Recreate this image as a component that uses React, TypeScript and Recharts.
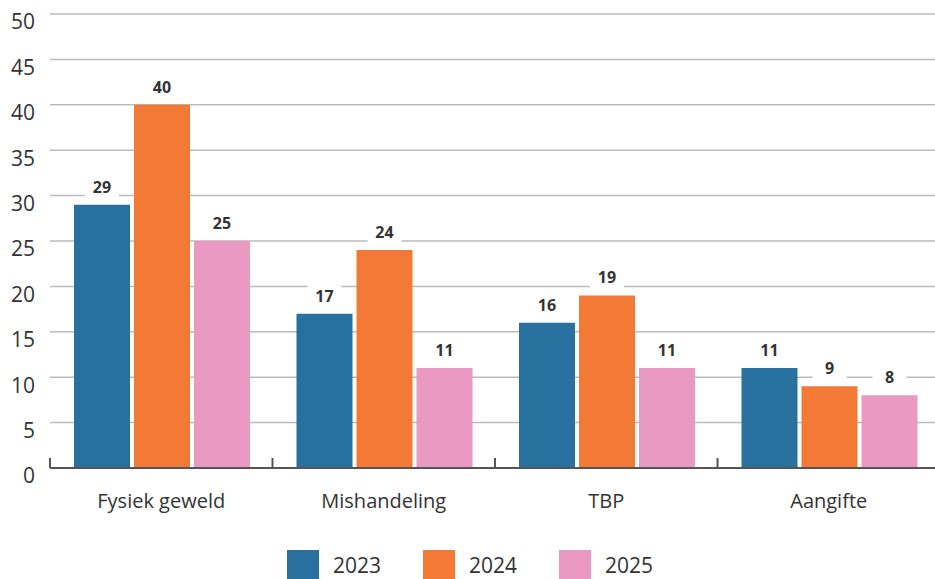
import { BarChart, Bar, XAxis, YAxis, CartesianGrid, Legend, LabelList } from "recharts";

const CATEGORIES = ["Fysiek geweld", "Mishandeling", "TBP", "Aangifte"];
const Y2023 = [29, 17, 16, 11];
const Y2024 = [40, 24, 19, 9];
const Y2025 = [25, 11, 11, 8];
const YEARS = ["2023", "2024", "2025"];
const Y_TICKS = [0, 5, 10, 15, 20, 25, 30, 35, 40, 45, 50];

const COLORS = ["#28709e", "#f37937", "#e999c2"];
const TEXT = "#333333";
const FONT = "'Open Sans', 'Noto Sans', sans-serif";

const CHART_W = 940;
const CHART_H = 579;
const LEFT = 50;
const AXIS_Y = 468;
const BAND = (CHART_W - LEFT) / CATEGORIES.length;

const data = CATEGORIES.map((name, i) => ({
  name,
  "2023": Y2023[i],
  "2024": Y2024[i],
  "2025": Y2025[i],
}));

function XTick(props: any) {
  const { x, y, payload, index } = props;
  const left = x - BAND / 2;
  const right = x + BAND / 2;
  return (
    <g>
      <line x1={left} x2={left} y1={AXIS_Y - 10} y2={AXIS_Y} stroke="#555" strokeWidth={2} />
      {index === CATEGORIES.length - 1 && (
        <line x1={right} x2={right} y1={AXIS_Y - 10} y2={AXIS_Y} stroke="#555" strokeWidth={2} />
      )}
      <text x={x} y={y} dy="0.71em" textAnchor="middle" fill={TEXT} fontSize={20} fontFamily={FONT}>
        {payload.value}
      </text>
    </g>
  );
}

function ValueLabel(props: any) {
  const { x, y, width, value } = props;
  const cx = x + width / 2;
  return (
    <g>
      <rect x={cx - 17} y={y - 29} width={34} height={22} fill="#fff" />
      <text x={cx} y={y - 12} textAnchor="middle" fill={TEXT} fontSize={16} fontWeight={700} fontFamily={FONT}>
        {value}
      </text>
    </g>
  );
}

function LegendContent() {
  return (
    <div style={{ height: 61, paddingTop: 33, boxSizing: "border-box", display: "flex", justifyContent: "flex-start", paddingLeft: 287 }}>
      {YEARS.map((yr, i) => (
        <div key={yr} style={{ display: "flex", alignItems: "center", marginRight: 39 }}>
          <div style={{ width: 32, height: 30, background: COLORS[i], marginRight: 14 }} />
          <span style={{ fontFamily: FONT, fontSize: 21, color: TEXT, lineHeight: "30px", width: 51 }}>{yr}</span>
        </div>
      ))}
    </div>
  );
}

export default function App() {
  return (
    <div style={{ position: "absolute", left: 0, top: 0, width: 935, height: 579, overflow: "hidden", background: "#fff" }}>
      <BarChart
        width={CHART_W}
        height={CHART_H}
        data={data}
        margin={{ top: 14, right: 0, left: 0, bottom: 0 }}
        barCategoryGap={24}
        barGap={4}
      >
        <CartesianGrid vertical={false} stroke="#bbbbbb" strokeWidth={1.5} />
        <YAxis
          width={LEFT}
          domain={[0, 50]}
          ticks={Y_TICKS}
          axisLine={false}
          tickLine={false}
          tickMargin={9}
          tick={{ fill: TEXT, fontSize: 21, fontFamily: FONT, dy: 8 }}
        />
        <XAxis
          dataKey="name"
          height={50}
          axisLine={{ stroke: "#555", strokeWidth: 2 }}
          tickLine={false}
          tickMargin={20}
          tick={<XTick />}
          interval={0}
        />
        <Legend verticalAlign="bottom" content={<LegendContent />} wrapperStyle={{ bottom: 0, left: 0, width: 935 }} />
        {YEARS.map((yr, i) => (
          <Bar key={yr} dataKey={yr} fill={COLORS[i]} isAnimationActive={false}>
            <LabelList dataKey={yr} content={<ValueLabel />} />
          </Bar>
        ))}
      </BarChart>
    </div>
  );
}
